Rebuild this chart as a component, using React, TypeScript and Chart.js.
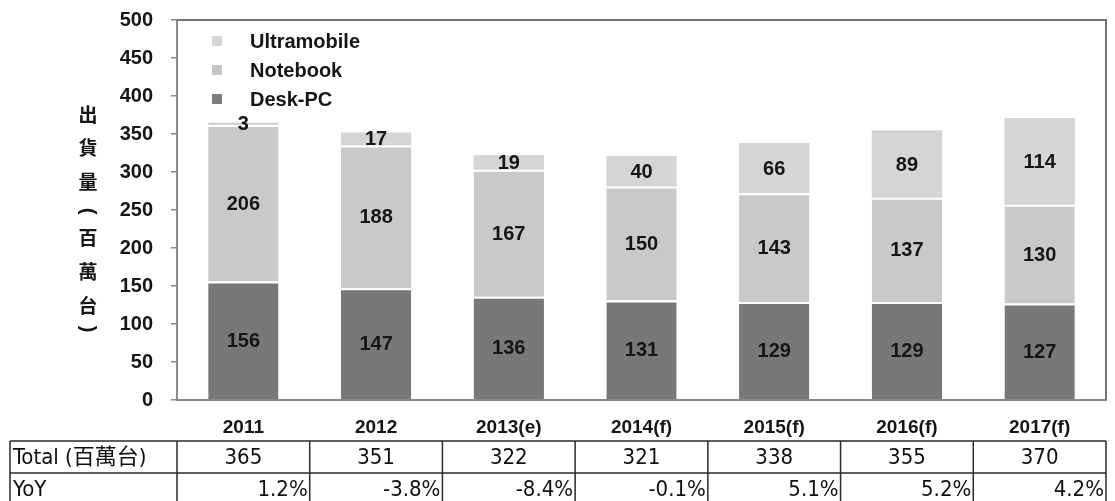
import React, { useEffect, useRef } from "react";
import { Chart, registerables } from "chart.js";

Chart.register(...registerables);

// ---- data ----
const categories = ["2011", "2012", "2013(e)", "2014(f)", "2015(f)", "2016(f)", "2017(f)"];
const deskPC = [156, 147, 136, 131, 129, 129, 127];
const notebook = [206, 188, 167, 150, 143, 137, 130];
const ultramobile = [3, 17, 19, 40, 66, 89, 114];
const totals = [365, 351, 322, 321, 338, 355, 370];
const yoy = ["1.2%", "-3.8%", "-8.4%", "-0.1%", "5.1%", "5.2%", "4.2%"];
const yMin = 0;
const yMax = 500;
const yStep = 50;
const yTitleChars = ["出", "貨", "量", "(", "百", "萬", "台", ")"];
const seriesNames = ["Desk-PC", "Notebook", "Ultramobile"];
const tableRowLabels = ["Total (百萬台)", "YoY"];

// ---- styles ----
const barColors = ["#787878", "#c9c9c9", "#d5d5d5"];
const legendColors = ["#7e7e7e", "#c6c6c6", "#d6d6d6"];
const LATIN = "'Liberation Sans', Arial, sans-serif";
const NARROW = "'Liberation Sans Narrow', 'Arial Narrow', 'DejaVu Sans Condensed', 'Noto Sans CJK TC', sans-serif";
const CJK = "'Noto Sans CJK TC', 'Noto Sans CJK SC', sans-serif";
const TEXT = "#151515";

const yTitleOffsets = [115, 148, 182, 211, 238, 272, 306, 329];

const framePlugin = {
  id: "frame",
  afterDraw(chart: any) {
    const { ctx, chartArea } = chart;
    ctx.save();
    ctx.strokeStyle = "#747474";
    ctx.lineWidth = 2;
    ctx.beginPath();
    ctx.moveTo(chartArea.left, chartArea.top);
    ctx.lineTo(chartArea.right, chartArea.top);
    ctx.lineTo(chartArea.right, chartArea.bottom);
    ctx.stroke();
    ctx.restore();
  },
};

const valueLabelPlugin = {
  id: "valueLabels",
  afterDatasetsDraw(chart: any) {
    const { ctx } = chart;
    ctx.save();
    ctx.font = `bold 20px ${LATIN}`;
    ctx.fillStyle = TEXT;
    ctx.textAlign = "center";
    ctx.textBaseline = "middle";
    chart.data.datasets.forEach((ds: any, di: number) => {
      const meta = chart.getDatasetMeta(di);
      meta.data.forEach((el: any, i: number) => {
        const v = ds.data[i];
        const cy = (el.y + el.base) / 2;
        ctx.fillText(String(v), el.x, cy + 1);
      });
    });
    ctx.restore();
  },
};

const legendPlugin = {
  id: "customLegend",
  afterDraw(chart: any) {
    const { ctx, chartArea } = chart;
    ctx.save();
    ctx.font = `bold 20px ${LATIN}`;
    ctx.textBaseline = "middle";
    ctx.textAlign = "left";
    const order = [2, 1, 0];
    order.forEach((si, k) => {
      const cy = chartArea.top + 21 + k * 29;
      ctx.fillStyle = legendColors[si];
      ctx.fillRect(chartArea.left + 35, cy - 5, 10, 10);
      ctx.fillStyle = TEXT;
      ctx.fillText(seriesNames[si], chartArea.left + 73, cy + 1);
    });
    ctx.restore();
  },
};

const yTitlePlugin = {
  id: "yTitle",
  afterDraw(chart: any) {
    const { ctx } = chart;
    ctx.save();
    ctx.fillStyle = TEXT;
    ctx.textAlign = "center";
    ctx.textBaseline = "middle";
    yTitleChars.forEach((c, i) => {
      const y = yTitleOffsets[i];
      if (c === "(" || c === ")") {
        ctx.save();
        ctx.translate(88, y);
        ctx.rotate(Math.PI / 2);
        ctx.font = `bold 20px ${LATIN}`;
        ctx.fillText(c, 0, 0);
        ctx.restore();
      } else {
        ctx.font = `bold 19px ${CJK}`;
        ctx.fillText(c, 88, y);
      }
    });
    ctx.restore();
  },
};

const tablePlugin = {
  id: "dataTable",
  afterDraw(chart: any) {
    const { ctx, chartArea } = chart;
    const xs = chart.scales.x;
    const n = categories.length;
    const colW = (chartArea.right - chartArea.left) / n;
    const top = 441;
    const rowH = 32;
    const left = 10;
    ctx.save();
    ctx.strokeStyle = "#2a2a2a";
    ctx.lineWidth = 1.5;
    ctx.beginPath();
    for (let r = 0; r <= 2; r++) {
      ctx.moveTo(left, top + r * rowH);
      ctx.lineTo(chartArea.right, top + r * rowH);
    }
    ctx.moveTo(left, top);
    ctx.lineTo(left, top + 2 * rowH);
    for (let i = 0; i < n; i++) {
      const bx = xs.getPixelForValue(i) - colW / 2;
      ctx.moveTo(bx, top);
      ctx.lineTo(bx, top + 2 * rowH);
    }
    ctx.moveTo(chartArea.right, top);
    ctx.lineTo(chartArea.right, top + 2 * rowH);
    ctx.stroke();

    ctx.fillStyle = "#101010";
    ctx.font = `22px ${NARROW}`;
    ctx.textBaseline = "middle";
    ctx.textAlign = "left";
    ctx.fillText(tableRowLabels[0], left + 3, top + rowH / 2 + 1);
    ctx.fillText(tableRowLabels[1], left + 3, top + rowH * 1.5 + 1);
    for (let i = 0; i < n; i++) {
      const cx = xs.getPixelForValue(i);
      ctx.textAlign = "center";
      ctx.fillText(String(totals[i]), cx, top + rowH / 2 + 1);
      ctx.textAlign = "right";
      ctx.fillText(yoy[i], cx + colW / 2 - 2, top + rowH * 1.5 + 1);
    }
    ctx.restore();
  },
};

export default function App() {
  const canvasRef = useRef<HTMLCanvasElement | null>(null);

  useEffect(() => {
    const canvas = canvasRef.current;
    if (!canvas) return;
    const values = [deskPC, notebook, ultramobile];
    const chart = new Chart(canvas, {
      type: "bar",
      data: {
        labels: categories,
        datasets: values.map((d, i) => ({
          label: seriesNames[i],
          data: d,
          backgroundColor: barColors[i],
          borderColor: "#ffffff",
          borderWidth: i < 2 ? { top: 2, left: 0, right: 0, bottom: 0 } : 0,
          borderSkipped: false,
          barPercentage: 0.53,
          categoryPercentage: 1.0,
        })),
      },
      options: {
        animation: false,
        responsive: false,
        maintainAspectRatio: false,
        layout: { padding: { left: 0, top: 20, right: 9, bottom: 61 } },
        plugins: {
          legend: { display: false },
          tooltip: { enabled: false },
        },
        scales: {
          x: {
            stacked: true,
            grid: { display: false },
            border: { display: true, color: "#8a8a8a", width: 2 },
            ticks: {
              color: TEXT,
              font: { family: LATIN, size: 19, weight: "bold" },
              padding: 8,
              maxRotation: 0,
            },
            afterFit(scale: any) {
              scale.height = 40;
            },
          },
          y: {
            stacked: true,
            min: yMin,
            max: yMax,
            grid: {
              display: true,
              drawOnChartArea: false,
              drawTicks: true,
              tickLength: 6,
              color: "#8a8a8a",
              lineWidth: 1.5,
            },
            border: { display: true, color: "#8a8a8a", width: 2 },
            ticks: {
              stepSize: yStep,
              color: TEXT,
              padding: 18,
              font: { family: LATIN, size: 20, weight: "bold" },
            },
            afterFit(scale: any) {
              scale.width = 177;
              scale.paddingTop = 5;
              scale.paddingBottom = 5;
            },
          },
        },
      },
      plugins: [framePlugin, valueLabelPlugin, legendPlugin, yTitlePlugin, tablePlugin],
    } as any);
    return () => chart.destroy();
  }, []);

  return (
    <div style={{ position: "absolute", left: 0, top: 0, width: 1115, height: 501, background: "#ffffff" }}>
      <canvas ref={canvasRef} width={1115} height={501} style={{ display: "block" }} />
    </div>
  );
}
